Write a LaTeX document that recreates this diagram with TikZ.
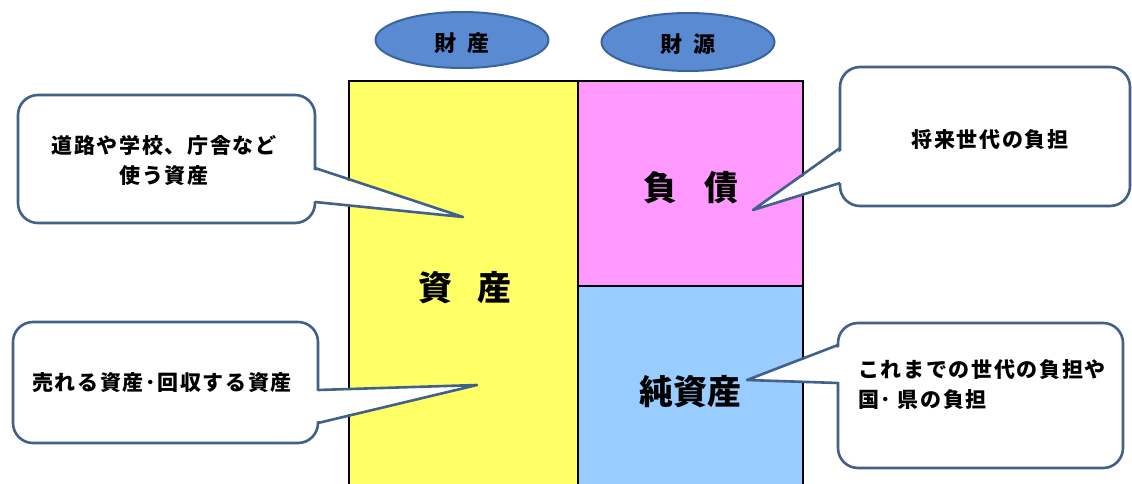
\documentclass[tikz,border=0pt]{standalone}
\usepackage{fontspec}
\usetikzlibrary{shapes.geometric}
\setmainfont{Noto Sans CJK JP}
\newfontfamily\jpsp{Noto Sans CJK JP}[LetterSpace=8]
\definecolor{ellfill}{HTML}{5A8AD2}
\definecolor{ellline}{HTML}{3A64A0}
\definecolor{cobord}{HTML}{41608A}
\definecolor{asyellow}{HTML}{FFFF66}
\definecolor{aspink}{HTML}{FF99FF}
\definecolor{asblue}{HTML}{99CCFF}
\begin{document}
\begin{tikzpicture}[x=1pt,y=-1pt,
  ell/.style={draw=ellline, line width=2pt, fill=ellfill, ellipse, inner sep=0pt},
  ellfont/.style={font=\fontsize{22}{22}\selectfont\bfseries},
  bigfont/.style={inner sep=0pt, font=\fontsize{34}{34}\selectfont\bfseries},
  cobox/.style={draw=cobord, line width=2.6pt, fill=white, rounded corners=20pt},
  coline/.style={draw=cobord, line width=2.6pt, line join=round},
  cotext/.style={inner sep=0pt, font=\jpsp\fontsize{21}{30}\selectfont\bfseries},
]
\useasboundingbox (0,0) rectangle (1132,484);
\fill[white] (0,0) rectangle (1132,484);

% ellipses
\node[ell, minimum width=173pt, minimum height=56pt] (e1) at (462,40) {};
\node[ellfont, inner sep=0pt] (e1t) at (462,43) {財\hspace{12pt}産};
\node[ell, minimum width=173pt, minimum height=58pt] (e2) at (688,42) {};
\node[ellfont, inner sep=0pt] (e2t) at (688,44) {財\hspace{12pt}源};

% balance sheet
\fill[asyellow] (349,81) rectangle (578,495);
\fill[aspink] (578,81) rectangle (803,286);
\fill[asblue] (578,286) rectangle (803,495);
\draw[line width=1.6pt] (578,81) -- (578,495);
\draw[line width=1.6pt] (578,286) -- (803,286);
\draw[line width=2.4pt] (349,81) rectangle (803,495);

\node[bigfont] (asset) at (465,288) {資\hspace{26pt}産};
\node[bigfont] (liab) at (691,188) {負\hspace{28pt}債};
\node[bigfont] (net) at (690,392) {純資産};

% callout 1 (top-left)
\coordinate (t1) at (463,217);
\coordinate (a1) at (315,168);
\coordinate (b1) at (315,202);
\draw[cobox] (18,95) rectangle (315,223);
\fill[white] (311,169) -- (t1) -- (311,201) -- cycle;
\draw[coline] (a1) -- (t1) -- (b1);
\node[cotext, align=center] (c1) at (164,160) {道路や学校、庁舎など\\使う資産};

% callout 2 (bottom-left)
\coordinate (t2) at (477,385);
\coordinate (a2) at (318,390);
\coordinate (b2) at (318,423);
\draw[cobox] (13,322) rectangle (318,443);
\fill[white] (314,391) -- (t2) -- (314,422) -- cycle;
\draw[coline] (a2) -- (t2) -- (b2);
\node[cotext] (c2) at (162,383) {売れる資産･回収する資産};

% callout 3 (top-right)
\coordinate (t3) at (753,210);
\coordinate (a3) at (840,148);
\coordinate (b3) at (840,183);
\draw[cobox] (840,67) rectangle (1130,206);
\fill[white] (844,149) -- (t3) -- (844,182) -- cycle;
\draw[coline] (a3) -- (t3) -- (b3);
\node[cotext] (c3) at (990,140) {将来世代の負担};

% callout 4 (bottom-right)
\coordinate (t4) at (747,380);
\coordinate (a4) at (838,345);
\coordinate (b4) at (838,383);
\draw[cobox] (838,323) rectangle (1123,468);
\fill[white] (842,346) -- (t4) -- (842,382) -- cycle;
\draw[coline] (a4) -- (t4) -- (b4);
\node[cotext, align=left, anchor=west] (c4) at (858,385) {これまでの世代の負担や\\国･ 県の負担};
\end{tikzpicture}
\end{document}
